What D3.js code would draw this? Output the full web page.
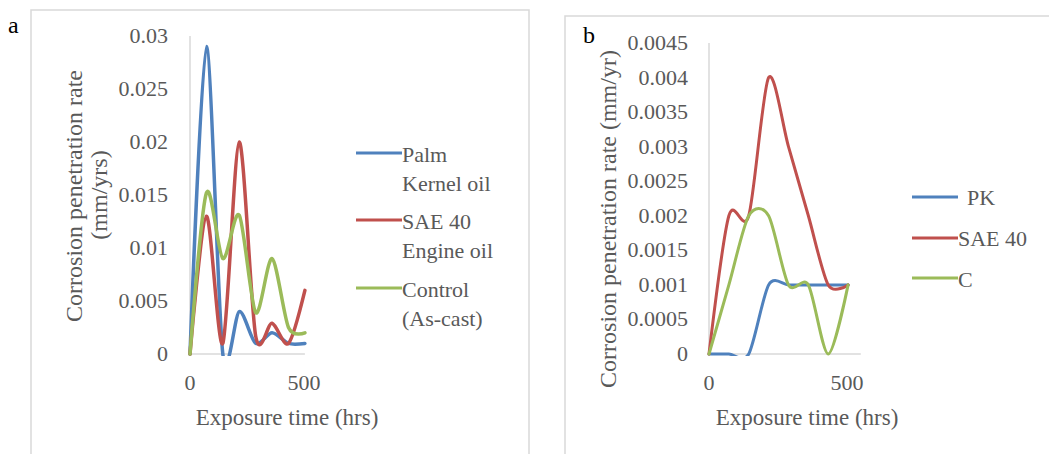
<!DOCTYPE html>
<html>
<head>
<meta charset="utf-8">
<script src="https://cdn.jsdelivr.net/npm/d3@7"></script>
<style>
    body { margin: 0; background: #fff; }
    text { font-family: "Liberation Serif", "Times New Roman", serif; fill: #595959; }
</style>
</head>
<body>
<svg id="chart" width="1049" height="454"></svg>
<script>
// exposure times (hrs), shared by both panels
const hours = [0, 72, 144, 216, 288, 360, 432, 504];

// panel a
const palmKernelA = [0, 0.029, 0, 0.004, 0.001, 0.002, 0.001, 0.001];
const sae40A = [0, 0.013, 0.001, 0.020, 0.0017, 0.0029, 0.001, 0.006];
const controlA = [0, 0.0152, 0.009, 0.0131, 0.0039, 0.009, 0.0025, 0.002];
const yTicksA = [0, 0.005, 0.01, 0.015, 0.02, 0.025, 0.03];

// panel b
const pkB = [0, 0, 0, 0.001, 0.001, 0.001, 0.001, 0.001];
const sae40B = [0, 0.002, 0.002, 0.004, 0.003, 0.002, 0.001, 0.001];
const controlB = [0, 0.001, 0.002, 0.002, 0.001, 0.001, 0, 0.001];
const yTicksB = [0, 0.0005, 0.001, 0.0015, 0.002, 0.0025, 0.003, 0.0035, 0.004, 0.0045];

const xTicks = [0, 500];
const colors = ["#4f81bd", "#c0504d", "#9bbb59"];

const svg = d3.select('#chart');

// panel frames
svg.append("rect").attr("x", 31).attr("y", 10).attr("width", 498).attr("height", 460)
    .attr("fill", "none").attr("stroke", "#d9d9d9").attr("stroke-width", 1.5);
svg.append("rect").attr("x", 565).attr("y", 16).attr("width", 500).attr("height", 460)
    .attr("fill", "none").attr("stroke", "#d9d9d9").attr("stroke-width", 1.5);

svg.append("text").attr("x", 8).attr("y", 33).style("font-size", "24px").style("fill", "#000").text("a");
svg.append("text").attr("x", 583).attr("y", 43).style("font-size", "24px").style("fill", "#000").text("b");

const drawPanel = function(opt) {
    const g = svg.append("g");
    const x = d3.scaleLinear().domain([0, 500]).range(opt.xRange);
    const y = d3.scaleLinear().domain([0, opt.yMax]).range(opt.yRange);

    // axis lines
    g.append("line")
        .attr("x1", x(0)).attr("x2", x(0))
        .attr("y1", y(0)).attr("y2", y(opt.yMax))
        .attr("stroke", "#d9d9d9").attr("stroke-width", 1.5);
    g.append("line")
        .attr("x1", x(0)).attr("x2", x(opt.xAxisEnd))
        .attr("y1", y(0)).attr("y2", y(0))
        .attr("stroke", "#d9d9d9").attr("stroke-width", 1.5);

    // tick labels
    g.selectAll(".ytick").data(opt.yTicks).enter().append("text")
        .attr("x", opt.yLabelX)
        .attr("y", d => y(d) + 7)
        .attr("text-anchor", "end")
        .style("font-size", "22px")
        .text(d => d3.format("")(+d.toFixed(4)));
    g.selectAll(".xtick").data(xTicks).enter().append("text")
        .attr("x", d => x(d))
        .attr("y", 390)
        .attr("text-anchor", "middle")
        .style("font-size", "22px")
        .text(d => d);

    g.append("text")
        .attr("x", opt.xTitleX)
        .attr("y", 425)
        .attr("text-anchor", "middle")
        .style("font-size", "23px")
        .text("Exposure time (hrs)");

    opt.yTitle.forEach(function(line) {
        g.append("text")
            .attr("transform", "translate(" + line.x + "," + line.y + ") rotate(-90)")
            .attr("text-anchor", "middle")
            .style("font-size", "24px")
            .text(line.text);
    });

    // clip lines to the plot area, as the spreadsheet does
    g.append("clipPath").attr("id", opt.id + "clip")
        .append("rect")
        .attr("x", x(0) - 5).attr("y", y(opt.yMax) - 5)
        .attr("width", x(opt.xAxisEnd) - x(0) + 10)
        .attr("height", y(0) - y(opt.yMax) + 7);

    const line = d3.line()
        .x((d, i) => x(hours[i]))
        .y(d => y(d))
        .curve(d3.curveCardinal.tension(0.15));

    g.append("g").attr("clip-path", "url(#" + opt.id + "clip)")
        .selectAll("path").data(opt.series).enter().append("path")
        .attr("d", d => line(d))
        .attr("fill", "none")
        .attr("stroke", (d, i) => colors[i])
        .attr("stroke-width", opt.lineWidth)
        .attr("stroke-linejoin", "round")
        .attr("stroke-linecap", "round");

    // legend
    opt.legend.forEach(function(item, i) {
        g.append("line")
            .attr("x1", opt.legendX).attr("x2", opt.legendX + 46)
            .attr("y1", item.lineY).attr("y2", item.lineY)
            .attr("stroke", colors[i]).attr("stroke-width", 3);
        item.lines.forEach(function(txt, j) {
            g.append("text")
                .attr("x", opt.legendX + 46 + (item.dx || 0))
                .attr("y", item.baseY + j * 28.5)
                .style("font-size", "22px")
                .text(txt);
        });
    });
};

drawPanel({
    id: "a",
    xRange: [190, 304],
    yRange: [354, 36],
    yMax: 0.03,
    xAxisEnd: 504,
    yTicks: yTicksA,
    yLabelX: 168,
    xTitleX: 287,
    yTitle: [
        {x: 82, y: 196, text: "Corrosion penetration rate"},
        {x: 107, y: 195, text: "(mm/yrs)"}
    ],
    series: [palmKernelA, sae40A, controlA],
    lineWidth: 3.5,
    legendX: 356,
    legend: [
        {lineY: 153, baseY: 162, lines: ["Palm", "Kernel oil"]},
        {lineY: 220, baseY: 229, lines: ["SAE 40", "Engine oil"]},
        {lineY: 288, baseY: 297, lines: ["Control", "(As-cast)"]}
    ]
});

drawPanel({
    id: "b",
    xRange: [709, 847],
    yRange: [354, 43],
    yMax: 0.0045,
    xAxisEnd: 550,
    yTicks: yTicksB,
    yLabelX: 688,
    xTitleX: 807,
    yTitle: [
        {x: 616, y: 219, text: "Corrosion penetration rate (mm/yr)"}
    ],
    series: [pkB, sae40B, controlB],
    lineWidth: 3,
    legendX: 912,
    legend: [
        {lineY: 197, baseY: 205, dx: 9, lines: ["PK"]},
        {lineY: 238, baseY: 246, lines: ["SAE 40"]},
        {lineY: 278, baseY: 287, lines: ["C"]}
    ]
});
</script>
</body>
</html>
